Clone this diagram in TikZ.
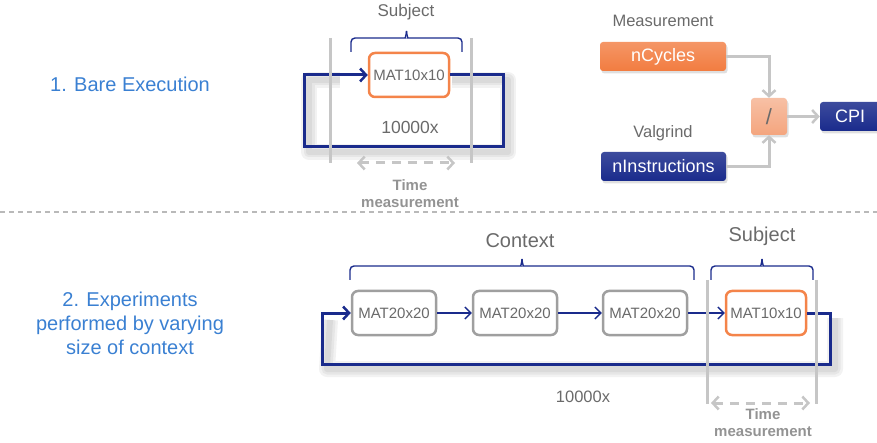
\documentclass[tikz,border=0pt]{standalone}
\usepackage{fontspec}
\setmainfont{Liberation Sans}
\usetikzlibrary{arrows.meta,shadows}

\definecolor{navy}{HTML}{1A2B8C}
\definecolor{headblue}{HTML}{3A80D2}
\definecolor{txtgray}{HTML}{6A6A6A}
\definecolor{linegray}{HTML}{C6C6C6}
\definecolor{orangeline}{HTML}{F4844A}
\definecolor{orangefill}{HTML}{F27C40}
\definecolor{peach}{HTML}{F4A57E}

\tikzset{
  px/.style={font=\fontsize{#1}{#1}\selectfont},
  matbox/.style={draw, rounded corners=6pt, line width=2.5pt, fill=white,
    text=txtgray, minimum height=44pt, inner sep=0pt, px=15},
  subjbox/.style={matbox, draw=orangeline, minimum width=80pt},
  ctxbox/.style={matbox, draw=gray!75, minimum width=84pt},
  solidbox/.style={rounded corners=3pt, text=white, inner sep=0pt, px=18,
    minimum height=29pt, drop shadow={opacity=0.25, shadow xshift=1.5pt, shadow yshift=-2.5pt}},
  loopline/.style={navy, line width=3pt, line join=miter,
    -{Straight Barb[length=6pt,width=13pt,line width=2.5pt]}},
  flow/.style={navy, line width=1.3pt, -{Straight Barb[length=6pt,width=12pt,line width=1.3pt]}},
  conn/.style={linegray, line width=3pt, -{Straight Barb[length=6pt,width=13pt,line width=2.5pt]}},
  bar/.style={linegray, line width=3pt},
  timearrow/.style={linegray, line width=3pt, dash pattern=on 9pt off 7pt,
    {Straight Barb[length=6pt,width=13pt,line width=2.5pt]}-{Straight Barb[length=6pt,width=13pt,line width=2.5pt]}},
  bracket/.style={navy, line width=1.4pt, rounded corners=4pt},
  label/.style={text=txtgray, inner sep=0pt},
  timelabel/.style={text=gray!85, inner sep=0pt, font=\fontsize{15}{15}\selectfont\bfseries},
  heading/.style={text=headblue, inner sep=0pt, align=center, font=\fontsize{20}{24}\selectfont},
  haze/.style={black, opacity=0.05, line join=round},
}

% curly bracket opening downwards: #1,#2 = left/right x, #3 = y of the tips
\newcommand{\curlybracket}[3]{%
  \pgfmathsetmacro{\bmid}{(#1+#2)/2}%
  \pgfmathsetmacro{\bflat}{#3-14}%
  \pgfmathsetmacro{\btip}{#3-21}%
  \draw[bracket] (#1,#3) -- (#1,\bflat) -- (\bmid-5,\bflat)
    to[out=0,in=-90] (\bmid,\btip);
  \draw[bracket] (#2,#3) -- (#2,\bflat) -- (\bmid+5,\bflat)
    to[out=180,in=-90] (\bmid,\btip);
}

\begin{document}
\begin{tikzpicture}[x=1pt, y=-1pt]
\useasboundingbox (0,0) rectangle (877,443);

% ---------- headings ----------
\node[heading] (h1) at (130,84) {1. Bare Execution};
\node[heading] (h2) at (130,323)
  {2. Experiments\\performed by varying\\size of context};

% ---------- separator ----------
\draw[gray!55, line width=1.3pt, dash pattern=on 5pt off 4pt] (0,212) -- (877,212);

% ---------- bare execution loop ----------
\coordinate (a1) at (503,147);
\coordinate (a2) at (304,75);
\foreach \w in {16,11,6}
  \draw[haze, line width=\w pt] (452,80) -- (508,80) -- (508,152) -- (309,152) -- (309,80) -- (340,80);
\node[subjbox] (s1) at (409,75) {MAT10x10};
\draw[loopline] (s1.east) -| (a1) -| (a2) -- (s1.west);
\node[label, px=17.5] (n1) at (410,127) {10000x};

\draw[bar] (330,38) -- (330,163);
\draw[bar] (471,38) -- (471,163);
\curlybracket{351}{462}{52}
\node[label, px=17] (t1) at (406,12) {Subject};

\coordinate (tm1a) at (357,163);
\coordinate (tm1b) at (455,163);
\draw[timearrow] (tm1a) -- (tm1b);
\node[timelabel] (tl1) at (410,185) {Time};
\node[timelabel] (tl1b) at (410,203) {measurement};

% ---------- CPI computation ----------
\node[label, px=16.5] (mlab) at (663,21) {Measurement};
\node[label, px=16.5] (vlab) at (663,133) {Valgrind};
\node[solidbox, top color=orangefill!80!white, bottom color=orangefill, minimum width=126pt] (cyc) at (663,56.5) {nCycles};
\node[solidbox, top color=navy!85!white, bottom color=navy, minimum width=125pt] (ins) at (663.5,166.5) {nInstructions};
\node[solidbox, top color=peach!70!white, bottom color=peach, minimum width=36pt, minimum height=37pt, text=txtgray, px=22] (div) at (769,116.5) {/};
\node[solidbox, top color=navy!85!white, bottom color=navy, minimum width=60pt] (cpi) at (850,116.5) {CPI};
\draw[conn] (cyc.east) -| (div.north);
\draw[conn] (ins.east) -| (div.south);
\draw[conn] (div.east) -- (cpi.west);

% ---------- context experiment loop ----------
\foreach \w in {16,11,6}
  \draw[haze, line width=\w pt] (330,320) -- (327,369) -- (835,369) -- (835,318);
\node[ctxbox] (c1) at (394,313) {MAT20x20};
\node[ctxbox] (c2) at (515,313) {MAT20x20};
\node[ctxbox] (c3) at (645,313) {MAT20x20};
\node[subjbox] (s2) at (766,313) {MAT10x10};
\draw[flow] (c1) -- (c2);
\draw[flow] (c2) -- (c3);
\draw[flow] (c3) -- (s2);
\coordinate (b1) at (830,364);
\coordinate (b2) at (322,313);
\draw[loopline] (s2.east) -| (b1) -| (b2) -- (c1.west);
\node[label, px=16.5] (n2) at (583,397) {10000x};

\draw[bar] (707,280) -- (707,404);
\draw[bar] (816,280) -- (816,404);
\curlybracket{350}{694}{280}
\curlybracket{711}{813}{280}
\node[label, px=20] (ctx) at (520,241) {Context};
\node[label, px=20] (t2) at (762,236) {Subject};

\coordinate (tm2a) at (711,403);
\coordinate (tm2b) at (810,403);
\draw[timearrow] (tm2a) -- (tm2b);
\node[timelabel] (tl2) at (763,414) {Time};
\node[timelabel] (tl2b) at (763,432) {measurement};
\end{tikzpicture}
\end{document}
